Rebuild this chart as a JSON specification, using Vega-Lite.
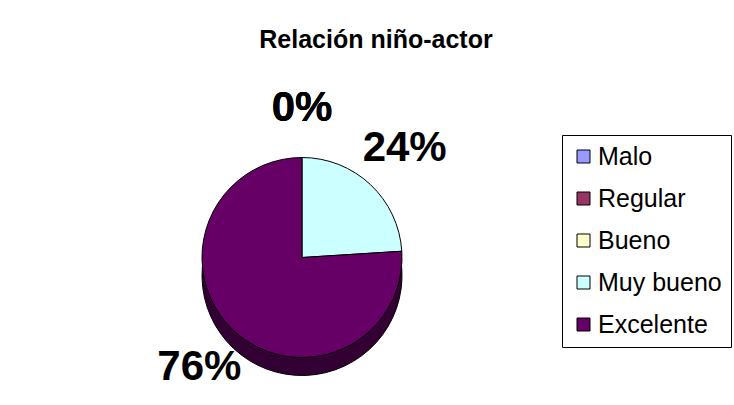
{
  "$schema": "https://vega.github.io/schema/vega-lite/v6.json",
  "width": 604,
  "height": 295,
  "autosize": {"type": "none"},
  "padding": {"left": 0, "top": 110, "right": 130, "bottom": 0},
  "background": "white",
  "title": {
    "text": "Relación niño-actor",
    "font": "Liberation Sans",
    "fontSize": 25,
    "fontWeight": "bold",
    "color": "black",
    "anchor": "middle",
    "baseline": "alphabetic",
    "dx": 74,
    "offset": 14
  },
  "data": {
    "values": [
      {"categoria": "Malo", "share": 0, "ord": 1},
      {"categoria": "Regular", "share": 0, "ord": 2},
      {"categoria": "Bueno", "share": 0, "ord": 3},
      {"categoria": " Muy bueno", "share": 0.24, "ord": 4},
      {"categoria": "Excelente", "share": 0.76, "ord": 5}
    ]
  },
  "encoding": {
    "theta": {"field": "share", "type": "quantitative", "stack": true},
    "order": {"field": "ord", "type": "quantitative"}
  },
  "layer": [
    {
      "mark": {"type": "arc", "outerRadius": 100, "yOffset": 18, "stroke": "black", "strokeWidth": 1},
      "encoding": {
        "color": {
          "field": "categoria",
          "type": "nominal",
          "scale": {
            "domain": ["Malo", "Regular", "Bueno", " Muy bueno", "Excelente"],
            "range": ["#4c4c80", "#4c1933", "#808066", "#668080", "#330033"]
          },
          "legend": null
        }
      }
    },
    {
      "mark": {"type": "arc", "outerRadius": 100, "stroke": "black", "strokeWidth": 1},
      "encoding": {
        "color": {
          "field": "categoria",
          "type": "nominal",
          "scale": {
            "domain": ["Malo", "Regular", "Bueno", " Muy bueno", "Excelente"],
            "range": ["#9999ff", "#993366", "#ffffcc", "#ccffff", "#660066"]
          },
          "legend": {
            "orient": "none",
            "legendX": 562,
            "legendY": 25,
            "title": null
          }
        }
      }
    },
    {
      "mark": {"type": "text", "radius": 150, "font": "Liberation Sans", "fontSize": 42, "fontWeight": "bold", "color": "black"},
      "encoding": {
        "text": {"field": "share", "type": "quantitative", "format": ".0%"}
      }
    }
  ],
  "resolve": {"scale": {"color": "independent"}},
  "config": {
    "view": {"stroke": null},
    "legend": {
      "strokeColor": "black",
      "fillColor": "white",
      "padding": 9,
      "labelFont": "Liberation Sans",
      "labelFontSize": 25,
      "labelColor": "black",
      "labelLimit": 300,
      "symbolType": "square",
      "symbolSize": 169,
      "symbolStrokeColor": "black",
      "symbolStrokeWidth": 1,
      "rowPadding": 16,
      "labelOffset": 2
    }
  }
}
